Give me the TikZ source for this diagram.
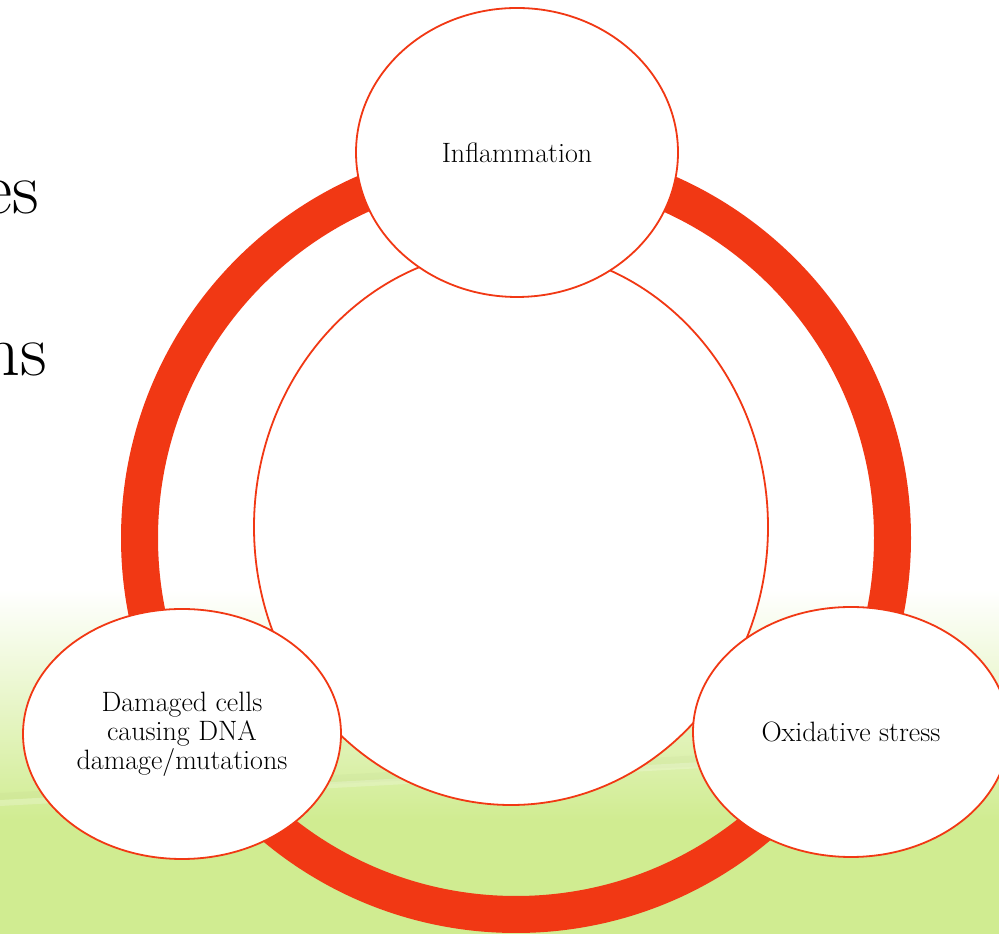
\documentclass[tikz,border=0pt]{standalone}
\usetikzlibrary{shapes.geometric}
\definecolor{ringred}{RGB}{241,56,20}
\definecolor{bggreen}{RGB}{208,236,145}
\begin{document}
\begin{tikzpicture}[x=1pt,y=1pt,
  bubble/.style={ellipse, draw=ringred, line width=1.8pt, fill=white, inner sep=0pt, align=center, font=\fontsize{28}{29}\selectfont},
  bigtext/.style={anchor=base east, inner sep=0pt, font=\fontsize{74}{80}\selectfont}]
\useasboundingbox (0,0) rectangle (999,934);
% background
\fill[white] (0,0) rectangle (999,934);
\fill[bggreen] (0,0) rectangle (999,114);
\shade[top color=white, bottom color=bggreen] (0,113.5) rectangle (999,345);
\fill[black!30!bggreen, opacity=0.06] (0,141) -- (999,195) -- (999,182) -- (0,134) -- cycle;
\fill[white, opacity=0.22] (0,134) -- (999,188) -- (999,182) -- (0,128) -- cycle;
% partial slide text
\node[bigtext] (t1) at (39,720) {es};
\node[bigtext] (t2) at (47,558) {ns};
% ring
\node[circle, draw=ringred, line width=37pt, minimum size=753pt, inner sep=0pt] (ring) at (516,396) {};
% inner ellipse
\node[ellipse, draw=ringred, line width=1.8pt, fill=white, minimum width=514pt, minimum height=556pt, inner sep=0pt] (core) at (511,407) {};
% bubbles
\node[bubble, minimum width=322pt, minimum height=289pt] (infl) at (517,781.5) {Inflammation};
\node[bubble, minimum width=318pt, minimum height=250pt] (dmg) at (182,200) {Damaged cells\\causing DNA\\damage/mutations};
\node[bubble, minimum width=316pt, minimum height=250pt] (oxi) at (851,202) {Oxidative stress};
\end{tikzpicture}
\end{document}
